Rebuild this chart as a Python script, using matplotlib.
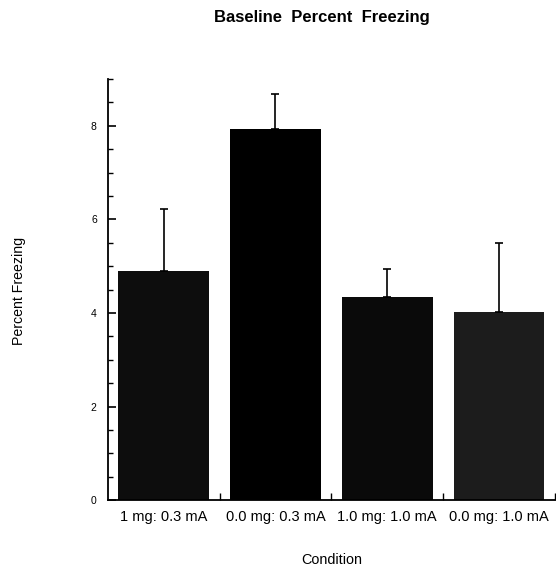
import matplotlib.pyplot as plt
from matplotlib.ticker import MultipleLocator

conditions = ["1 mg: 0.3 mA", "0.0 mg: 0.3 mA", "1.0 mg: 1.0 mA", "0.0 mg: 1.0 mA"]
freezing = [4.90, 7.94, 4.34, 4.02]
sem = [1.32, 0.74, 0.60, 1.48]
colors = ["#0d0d0d", "#000000", "#0a0a0a", "#1c1c1c"]

plt.rcParams['font.family'] = ['Liberation Sans', 'DejaVu Sans']

fig = plt.figure(figsize=(5.56, 5.69), dpi=100)
ax = fig.add_axes([0.194, 0.121, 0.804, 0.740])

x = list(range(len(conditions)))
ax.bar(x, freezing, width=0.81, color=colors, zorder=2)
ax.errorbar(x, freezing, yerr=[[0] * len(sem), sem], fmt="none",
            ecolor="black", elinewidth=1.2, capsize=3, capthick=1.2, zorder=3)

ax.set_xlim(-0.5, 3.5)
ax.set_ylim(0, 9)
ax.set_xticks(x)
ax.set_xticklabels(conditions, fontsize=10.5)
ax.set_xticks([0.5, 1.5, 2.5, 3.5], minor=True)
ax.tick_params(axis="x", which="major", length=0, pad=7)
ax.tick_params(axis="x", which="minor", direction="in", length=5, width=1)

ax.yaxis.set_major_locator(MultipleLocator(2))
ax.yaxis.set_minor_locator(MultipleLocator(0.5))
ax.tick_params(axis="y", which="major", direction="in", length=6, width=1.2,
               labelsize=7.5, pad=8)
ax.tick_params(axis="y", which="minor", direction="in", length=3.5, width=1)

for s in ["top", "right"]:
    ax.spines[s].set_visible(False)
for s in ["left", "bottom"]:
    ax.spines[s].set_linewidth(1.3)

fig.text(0.579, 0.970, "Baseline  Percent  Freezing", ha="center", va="center",
         fontsize=12, fontweight="bold")
fig.text(0.035, 0.489, "Percent Freezing", rotation=90, ha="center", va="center",
         fontsize=10.2)
fig.text(0.597, 0.016, "Condition", ha="center", va="center", fontsize=10.4)

fig.savefig("out.png", dpi=100)
